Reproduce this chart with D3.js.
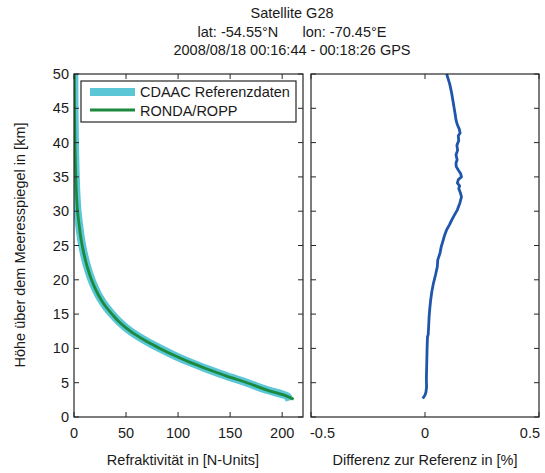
<!DOCTYPE html>
<html>
<head>
<meta charset="utf-8">
<script src="https://cdn.jsdelivr.net/npm/d3@7"></script>
<style>
  html, body { margin: 0; padding: 0; background: #fff; }
  svg { display: block; font-family: "Liberation Sans", Arial, sans-serif; }
</style>
</head>
<body>
<svg id="chart" width="545" height="473"></svg>
<script>
// Refractivity profile (retrieved and reference), heights in km
const heights = [2.6, 3, 4, 5, 6, 7, 8, 9, 10, 11, 12, 13, 14, 15, 16, 17, 18, 19, 20, 22, 24, 26, 28, 30, 33, 36, 40, 45, 50];
const refRonda = [211, 205, 184, 166, 146, 128, 111, 96, 82.5, 70, 59, 50, 42.5, 36.5, 31, 26.5, 22.7, 19.5, 16.8, 12.5, 9.2, 6.7, 4.9, 3.4, 2.2, 1.5, 0.9, 0.5, 0.3];
const refHeightsCdaac = [2.4, 3, 4, 5, 6, 7, 8, 9, 10, 11, 12, 13, 14, 15, 16, 17, 18, 19, 20, 22, 24, 26, 28, 30, 33, 36, 40, 45, 50];
const refCdaac = [207, 205, 184, 166, 146, 128, 111, 96, 82.5, 70, 59, 50, 42.5, 36.5, 31, 26.5, 22.7, 19.5, 16.8, 12.5, 9.2, 6.7, 4.9, 3.4, 2.2, 1.5, 0.9, 0.5, 0.3];

// Relative difference to reference profile in percent
const diffHeights = [2.7, 3.0, 3.2, 3.6, 4.4, 5.5, 6.9, 8.3, 9.8, 10.8, 11.7, 12.0, 13.2, 14.6, 15.8, 17.1, 18.3, 19.5, 20.7, 21.9, 22.9, 23.9, 24.8, 25.8, 26.5, 27.3, 28.0, 28.7, 29.5, 30.2, 31.2, 32.1, 32.7, 33.3, 33.7, 34.1, 34.6, 35.0, 35.5, 36.0, 36.5, 37.0, 37.5, 38.2, 38.9, 39.6, 40.3, 41.0, 41.4, 42.0, 42.6, 43.3, 44.2, 45.2, 46.2, 47.2, 48.6, 50];
const diffValues = [-0.01, -0.004, 0.0, 0.004, 0.007, 0.006, 0.007, 0.008, 0.009, 0.010, 0.011, 0.014, 0.016, 0.018, 0.021, 0.025, 0.030, 0.037, 0.046, 0.054, 0.056, 0.066, 0.071, 0.080, 0.086, 0.095, 0.107, 0.117, 0.130, 0.142, 0.153, 0.160, 0.155, 0.148, 0.152, 0.142, 0.146, 0.160, 0.156, 0.146, 0.137, 0.136, 0.141, 0.136, 0.143, 0.140, 0.148, 0.146, 0.154, 0.150, 0.142, 0.136, 0.132, 0.127, 0.122, 0.117, 0.108, 0.095];

const yTicks = [0, 5, 10, 15, 20, 25, 30, 35, 40, 45, 50];
const xTicksLeft = [0, 50, 100, 150, 200];
const xTicksRight = [-0.5, 0, 0.5];
const xTickLabelsRight = ["-0.5", "0", "0.5"];

const titleLines = ["Satellite G28", "lat: -54.55°N      lon: -70.45°E", "2008/08/18 00:16:44 - 00:18:26 GPS"];
const legendLabels = ["CDAAC Referenzdaten", "RONDA/ROPP"];

const svg = d3.select("#chart");
const axisColor = "#262626";
const textColor = "#1a1a1a";
const fontSize = 14.5;

const plotTop = 74, plotBottom = 417;
const left1 = 74, right1 = 303;
const left2 = 311, right2 = 539;

const y = d3.scaleLinear().domain([0, 50]).range([plotBottom, plotTop]);
const x1 = d3.scaleLinear().domain([0, 220]).range([left1, right1]);
const x2 = d3.scaleLinear().domain([-0.5, 0.5]).range([left2, right2]);

// Title
svg.append("g").selectAll("text").data(titleLines).join("text")
  .attr("x", 292).attr("y", (d, i) => 18 + i * 18.5)
  .attr("text-anchor", "middle").attr("font-size", fontSize).attr("fill", textColor)
  .attr("xml:space", "preserve")
  .text(d => d);

function drawFrame(x, l, r, xt, labelFor, anchorFor, showYLabels) {
  const g = svg.append("g");
  const tl = 5;
  g.append("rect").attr("x", l).attr("y", plotTop).attr("width", r - l).attr("height", plotBottom - plotTop)
    .attr("fill", "none").attr("stroke", axisColor).attr("stroke-width", 1.2);
  // x ticks (bottom & top, inward)
  xt.forEach(v => {
    const px = x(v);
    g.append("line").attr("x1", px).attr("x2", px).attr("y1", plotBottom).attr("y2", plotBottom - tl).attr("stroke", axisColor);
    g.append("line").attr("x1", px).attr("x2", px).attr("y1", plotTop).attr("y2", plotTop + tl).attr("stroke", axisColor);
  });
  // y ticks (left & right, inward)
  yTicks.forEach(v => {
    const py = y(v);
    g.append("line").attr("x1", l).attr("x2", l + tl).attr("y1", py).attr("y2", py).attr("stroke", axisColor);
    g.append("line").attr("x1", r).attr("x2", r - tl).attr("y1", py).attr("y2", py).attr("stroke", axisColor);
  });
  g.append("g").selectAll("text").data(xt).join("text")
    .attr("x", (d, i) => {
      const a = anchorFor(d, i);
      return x(d) + (a === "start" ? -1 : a === "end" ? 1 : 0);
    })
    .attr("y", plotBottom + 21)
    .attr("text-anchor", (d, i) => anchorFor(d, i))
    .attr("font-size", fontSize).attr("fill", textColor)
    .text((d, i) => labelFor(d, i));
  if (showYLabels) {
    g.append("g").selectAll("text").data(yTicks).join("text")
      .attr("x", l - 5).attr("y", d => y(d) + 5)
      .attr("text-anchor", "end").attr("font-size", fontSize).attr("fill", textColor)
      .text(d => d);
  }
  return g;
}

// Left panel: refractivity
const g1 = svg.append("g");
svg.append("clipPath").attr("id", "clip1").append("rect")
  .attr("x", left1).attr("y", plotTop).attr("width", right1 - left1).attr("height", plotBottom - plotTop);

const lineRef = d3.line().x((d, i) => x1(refCdaac[i])).y(d => y(d)).curve(d3.curveMonotoneY);
const lineRonda = d3.line().x((d, i) => x1(refRonda[i])).y(d => y(d)).curve(d3.curveMonotoneY);

g1.append("path").attr("clip-path", "url(#clip1)")
  .attr("d", lineRef(refHeightsCdaac))
  .attr("fill", "none").attr("stroke", "#5ac6d6").attr("stroke-width", 8);
g1.append("path").attr("clip-path", "url(#clip1)")
  .attr("d", lineRonda(heights))
  .attr("fill", "none").attr("stroke", "#1b8a3e").attr("stroke-width", 2.8);

drawFrame(x1, left1, right1, xTicksLeft, d => d, () => "middle", true);

// Legend
const lg = svg.append("g");
lg.append("rect").attr("x", 81).attr("y", 81).attr("width", 215).attr("height", 41)
  .attr("fill", "#fff").attr("stroke", axisColor).attr("stroke-width", 1.2);
lg.append("line").attr("x1", 90).attr("x2", 135).attr("y1", 92).attr("y2", 92)
  .attr("stroke", "#5ac6d6").attr("stroke-width", 8);
lg.append("line").attr("x1", 90).attr("x2", 135).attr("y1", 110).attr("y2", 110)
  .attr("stroke", "#1b8a3e").attr("stroke-width", 2.8);
lg.selectAll("text").data(legendLabels).join("text")
  .attr("x", 140).attr("y", (d, i) => 97 + i * 18.5)
  .attr("font-size", fontSize).attr("fill", textColor)
  .text(d => d);

// Right panel: difference
const g2 = svg.append("g");
const lineDiff = d3.line().x((d, i) => x2(diffValues[i])).y(d => y(d)).curve(d3.curveLinear);
g2.append("path").attr("d", lineDiff(diffHeights))
  .attr("fill", "none").attr("stroke", "#1f55aa").attr("stroke-width", 2.8)
  .attr("stroke-linejoin", "round");

drawFrame(x2, left2, right2, xTicksRight, (d, i) => xTickLabelsRight[i],
  (d, i) => i === 0 ? "start" : i === xTicksRight.length - 1 ? "end" : "middle", false);

// Axis titles
svg.append("text").attr("x", 183).attr("y", 465).attr("text-anchor", "middle")
  .attr("font-size", fontSize).attr("fill", textColor).text("Refraktivität in [N-Units]");
svg.append("text").attr("x", 425).attr("y", 465).attr("text-anchor", "middle")
  .attr("font-size", fontSize).attr("fill", textColor).text("Differenz zur Referenz in [%]");
svg.append("text").attr("transform", "translate(25,245) rotate(-90)").attr("text-anchor", "middle")
  .attr("font-size", fontSize).attr("fill", textColor).text("Höhe über dem Meeresspiegel in [km]");
</script>
</body>
</html>
